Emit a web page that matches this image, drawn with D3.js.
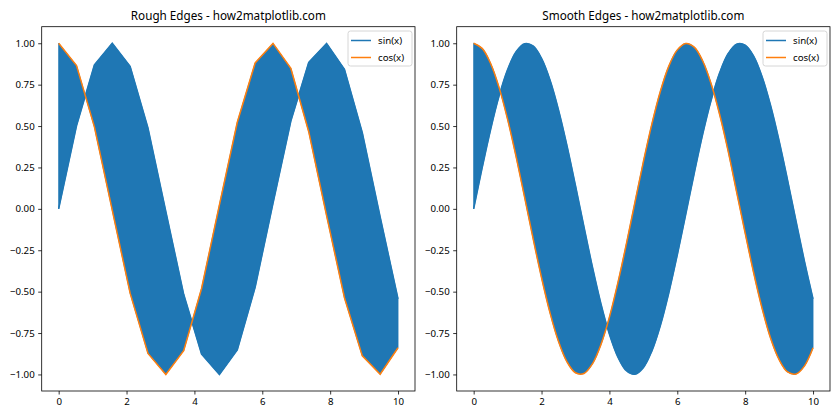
<!DOCTYPE html>
<html><head><meta charset="utf-8">
<script src="https://cdn.jsdelivr.net/npm/d3@7"></script>
<style>body{margin:0;background:#fff}svg{display:block}text{font-family:"Noto Sans",sans-serif;fill:#000}</style>
</head><body><svg id="c" width="840" height="420"></svg>
<script>
// Rough panel (20 samples)
const roughX = [0,0.5263,1.0526,1.5789,2.1053,2.6316,3.1579,3.6842,4.2105,4.7368,5.2632,5.7895,6.3158,6.8421,7.3684,7.8947,8.4211,8.9474,9.4737,10];
const roughSin = [0,0.502,0.869,1.000,0.861,0.488,-0.016,-0.516,-0.877,-1.000,-0.852,-0.474,0.033,0.530,0.885,0.999,0.843,0.460,-0.049,-0.544];
const roughCos = [1,0.865,0.495,-0.008,-0.509,-0.873,-1.000,-0.856,-0.481,0.024,0.523,0.881,0.999,0.848,0.466,-0.041,-0.537,-0.888,-0.999,-0.839];
// Smooth panel
const smoothX = [0,0.25,0.5,0.75,1,1.25,1.5,1.75,2,2.25,2.5,2.75,3,3.25,3.5,3.75,4,4.25,4.5,4.75,5,5.25,5.5,5.75,6,6.25,6.5,6.75,7,7.25,7.5,7.75,8,8.25,8.5,8.75,9,9.25,9.5,9.75,10];
const smoothSin = [0,0.247,0.479,0.682,0.841,0.949,0.997,0.984,0.909,0.778,0.598,0.382,0.141,-0.108,-0.351,-0.572,-0.757,-0.895,-0.978,-0.999,-0.959,-0.859,-0.706,-0.508,-0.279,-0.033,0.215,0.451,0.657,0.823,0.938,0.995,0.989,0.923,0.798,0.624,0.412,0.174,-0.075,-0.319,-0.544];
const smoothCos = [1,0.969,0.878,0.732,0.540,0.315,0.071,-0.178,-0.416,-0.628,-0.801,-0.924,-0.990,-0.994,-0.936,-0.820,-0.654,-0.446,-0.211,0.038,0.284,0.512,0.709,0.862,0.960,0.999,0.977,0.893,0.754,0.568,0.347,0.100,-0.146,-0.386,-0.602,-0.782,-0.911,-0.985,-0.997,-0.948,-0.839];
const xTicks = [0,2,4,6,8,10];
const yTicks = [-1,-0.75,-0.5,-0.25,0,0.25,0.5,0.75,1];
const titles = ["Rough Edges - how2matplotlib.com","Smooth Edges - how2matplotlib.com"];
const seriesNames = ["sin(x)","cos(x)"];

const BLUE="#1f77b4", ORANGE="#ff7f0e";
const svg = d3.select("#c");
const panels = [
  {x0:41.7,x1:415,xs:roughX,s:roughSin,c:roughCos,curve:d3.curveLinear,title:titles[0]},
  {x0:456.7,x1:830,xs:smoothX,s:smoothSin,c:smoothCos,curve:d3.curveCatmullRom.alpha(0.5),title:titles[1]}
];
const plotTop=26.7, plotBottom=391;
panels.forEach(p=>{
  const g = svg.append("g");
  const x = d3.scaleLinear().domain([-0.5,10.5]).range([p.x0,p.x1]);
  const y = d3.scaleLinear().domain([-1.1,1.1]).range([plotBottom,plotTop]);
  const idx = d3.range(p.xs.length);
  const area = d3.area().x(i=>x(p.xs[i])).y0(i=>y(p.s[i])).y1(i=>y(p.c[i])).curve(p.curve);
  g.append("path").attr("d",area(idx)).attr("fill",BLUE).attr("stroke",BLUE).attr("stroke-width",0.8);
  const lineS = d3.line().x(i=>x(p.xs[i])).y(i=>y(p.s[i])).curve(p.curve);
  const lineC = d3.line().x(i=>x(p.xs[i])).y(i=>y(p.c[i])).curve(p.curve);
  g.append("path").attr("d",lineS(idx)).attr("fill","none").attr("stroke",BLUE).attr("stroke-width",1.5);
  g.append("path").attr("d",lineC(idx)).attr("fill","none").attr("stroke",ORANGE).attr("stroke-width",1.5);
  // axes
  const xa = g.append("g").attr("transform",`translate(0,${plotBottom})`)
    .call(d3.axisBottom(x).tickValues(xTicks).tickSize(3.5).tickPadding(3.5).tickFormat(d3.format("d")));
  const ya = g.append("g").attr("transform",`translate(${p.x0},0)`)
    .call(d3.axisLeft(y).tickValues(yTicks).tickSize(3.5).tickPadding(3.5).tickFormat(d3.format(".2f")));
  [xa,ya].forEach(a=>{a.select(".domain").remove();a.selectAll("line").attr("stroke","#000").attr("stroke-width",0.8);
    a.selectAll("text").style("font-size","9.7px").style("font-family","'Noto Sans',sans-serif").attr("fill","#000");});
  g.append("rect").attr("x",p.x0).attr("y",plotTop).attr("width",p.x1-p.x0).attr("height",plotBottom-plotTop)
    .attr("fill","none").attr("stroke","#000").attr("stroke-width",0.8);
  g.append("text").attr("x",(p.x0+p.x1)/2).attr("y",plotTop-7).attr("text-anchor","middle").style("font-size","11.7px").text(p.title);
  // legend
  const lw=64, lh=35, lx=p.x1-3-lw, ly=plotTop+4.3;
  const lg = g.append("g");
  lg.append("rect").attr("x",lx).attr("y",ly).attr("width",lw).attr("height",lh).attr("rx",2.5)
    .attr("fill","#fff").attr("fill-opacity",0.8).attr("stroke","#ccc").attr("stroke-width",0.8);
  [BLUE,ORANGE].forEach((col,k)=>{
    const yy = ly+9.5+k*17;
    lg.append("line").attr("x1",lx+3).attr("x2",lx+23).attr("y1",yy).attr("y2",yy).attr("stroke",col).attr("stroke-width",1.5);
    lg.append("text").attr("x",lx+30).attr("y",yy+3.4).style("font-size","9.7px").text(seriesNames[k]);
  });
});
</script></body></html>
